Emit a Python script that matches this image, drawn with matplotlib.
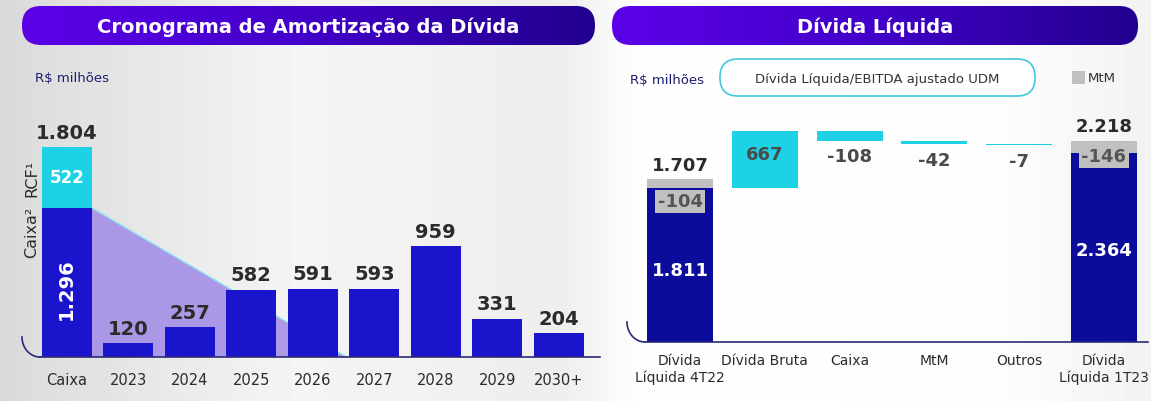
import numpy as np
import matplotlib
matplotlib.use("Agg")
import matplotlib.pyplot as plt
from matplotlib.patches import FancyBboxPatch, Rectangle, Polygon
from matplotlib.colors import LinearSegmentedColormap

W, H = 1151, 402

# --- left chart data: amortization schedule (R$ milhões)
amort_labels = ["Caixa", "2023", "2024", "2025", "2026", "2027", "2028", "2029", "2030+"]
amort_values = [1296, 120, 257, 582, 591, 593, 959, 331, 204]
rcf_value = 522
caixa_label = "1.804"
caixa_inner = "1.296"

# --- right chart data: net debt bridge
bridge_labels = ["Dívida\nLíquida 4T22", "Dívida Bruta", "Caixa", "MtM", "Outros", "Dívida\nLíquida 1T23"]
start_debt = 1811
start_mtm = 104
start_label = "1.707"
start_inner = "1.811"
steps = [667, -108, -42, -7]
end_debt = 2218
end_mtm = 146
end_label = "2.218"
end_inner = "2.364"

BLUE = "#1a14cc"
NAVY = "#0b0b9c"
CYAN = "#1ed2e6"
GRAY = "#c0c0c0"
TXT = "#2b2b2b"

fig = plt.figure(figsize=(W / 100, H / 100), dpi=100)

def px_axes(x0, y0, x1, y1, **kw):
    return fig.add_axes([x0 / W, 1 - y1 / H, (x1 - x0) / W, (y1 - y0) / H], **kw)

# background + banners in pixel coords
bg = px_axes(0, 0, W, H, zorder=0)
bg.set_xlim(0, W)
bg.set_ylim(H, 0)
bg.axis("off")
xs = np.array([0, 40, 300, 560, 605, 640, 1000, 1151])
cs = np.array([0.85, 0.87, 0.96, 0.93, 0.97, 0.995, 0.99, 0.95])
grad = np.interp(np.arange(W), xs, cs)
bg.imshow(np.tile(grad, (H, 1)), cmap="gray", vmin=0, vmax=1, extent=(0, W, H, 0), aspect="auto")

ban_cm = LinearSegmentedColormap.from_list("ban", ["#5c02e8", "#4200c8", "#22008e"])

def banner(x0, x1, title):
    p = FancyBboxPatch((x0, 7), x1 - x0, 39, boxstyle="round,pad=0,rounding_size=19",
                       facecolor="none", edgecolor="none")
    bg.add_patch(p)
    im = bg.imshow(np.linspace(0, 1, 256)[None, :], cmap=ban_cm, extent=(x0, x1, 46, 7), aspect="auto")
    im.set_clip_path(p)
    bg.text((x0 + x1) / 2, 27, title, color="white", fontsize=14, fontweight="bold",
            ha="center", va="center")

banner(22, 595, "Cronograma de Amortização da Dívida")
banner(612, 1138, "Dívida Líquida")

bg.text(35, 79, "R$ milhões", color="#1c1c6e", fontsize=9.5, va="center")
bg.text(630, 80, "R$ milhões", color="#1c1c6e", fontsize=9.5, va="center")
bg.add_patch(FancyBboxPatch((720, 60), 315, 37, boxstyle="round,pad=0,rounding_size=18",
                            facecolor="white", edgecolor="#40c8dc", linewidth=1.2))
bg.text(877, 79, "Dívida Líquida/EBITDA ajustado UDM", color="#333333", fontsize=9.5,
        ha="center", va="center")
bg.add_patch(Rectangle((1072, 72), 13, 13, facecolor=GRAY, edgecolor="none"))
bg.text(1088, 78, "MtM", color="#333333", fontsize=9.5, va="center")

# baseline arcs
t = np.linspace(0, np.pi / 2, 30)
bg.plot(40 - 18 * np.cos(t), 338 + 20 * np.sin(t), color="#2a2a7a", lw=1.2)
bg.plot(645 - 18 * np.cos(t), 323 + 20 * np.sin(t), color="#2a2a7a", lw=1.2)

# ---------------- left chart
ax = px_axes(20, 110, 600, 358, zorder=2)
ax.patch.set_alpha(0)
ax.set_xlim(-0.76, 8.67)
ax.set_ylim(0, 2151)
for s in ax.spines.values():
    s.set_visible(False)
ax.set_yticks([])
x = np.arange(len(amort_labels))
bw = 0.81

tri = Polygon([(0.4, amort_values[0]), (4.55, 0), (0.4, 0)], closed=True,
              facecolor="#a08ae6", edgecolor="none", alpha=0.85, zorder=1)
ax.add_patch(tri)
ax.plot([0.4, 4.55], [amort_values[0], 0], color="#8ee6f2", lw=1, zorder=1)

ax.bar(x, amort_values, width=bw, color=BLUE, zorder=2)
ax.bar(0, rcf_value, bottom=amort_values[0], width=bw, color=CYAN, zorder=2)
ax.plot([-0.44, 8.67], [0, 0], color="#2a2a7a", lw=1.2, clip_on=False, zorder=3)

for i, v in enumerate(amort_values[1:], start=1):
    ax.annotate(str(v), (i, v), xytext=(0, 4), textcoords="offset points",
                ha="center", va="bottom", fontsize=14, fontweight="bold", color=TXT)
ax.annotate(caixa_label, (0, amort_values[0] + rcf_value), xytext=(0, 4), textcoords="offset points",
            ha="center", va="bottom", fontsize=14, fontweight="bold", color=TXT)
ax.text(0, amort_values[0] + rcf_value / 2, str(rcf_value), ha="center", va="center",
        fontsize=12, fontweight="bold", color="white")
ax.text(0, amort_values[0] * 0.46, caixa_inner, ha="center", va="center", rotation=90,
        fontsize=14, fontweight="bold", color="white")
ax.text(-0.57, amort_values[0] + rcf_value * 0.5, "RCF¹", rotation=90, ha="center",
        va="center", fontsize=11.5, color=TXT)
ax.text(-0.57, amort_values[0] * 0.84, "Caixa²", rotation=90, ha="center",
        va="center", fontsize=11.5, color=TXT)

ax.set_xticks(x)
ax.set_xticklabels(amort_labels, fontsize=10.5, color=TXT)
ax.tick_params(axis="x", length=0, pad=11)

# ---------------- right chart
ax2 = px_axes(625, 110, 1148, 343, zorder=2)
ax2.patch.set_alpha(0)
ax2.set_xlim(-0.65, 5.52)
ax2.set_ylim(0, 2741)
for s in ax2.spines.values():
    s.set_visible(False)
ax2.set_yticks([])
xb = np.arange(len(bridge_labels))
bw2 = 0.78

ax2.plot([-0.41, 5.52], [0, 0], color="#2a2a7a", lw=1.2, clip_on=False, zorder=3)

# totals with MtM strip on top
ax2.bar(0, start_debt, width=bw2, color=NAVY, zorder=2)
ax2.bar(0, start_mtm, bottom=start_debt, width=bw2, color=GRAY, zorder=2)
ax2.bar(5, end_debt, width=bw2, color=NAVY, zorder=2)
ax2.bar(5, end_mtm, bottom=end_debt, width=bw2, color=GRAY, zorder=2)

lab_kw = dict(fontsize=13, fontweight="bold")
box_kw = dict(boxstyle="square,pad=0.15", facecolor=GRAY, edgecolor="none")
ax2.annotate(start_label, (0, start_debt + start_mtm), xytext=(0, 4), textcoords="offset points",
             ha="center", va="bottom", color=TXT, **lab_kw)
ax2.annotate(end_label, (5, end_debt + end_mtm), xytext=(0, 4), textcoords="offset points",
             ha="center", va="bottom", color=TXT, **lab_kw)
ax2.annotate(f"-{start_mtm}", (0, start_debt + start_mtm), xytext=(0, -16),
             textcoords="offset points", ha="center", va="center", color="#555555",
             bbox=box_kw, **lab_kw)
ax2.annotate(f"-{end_mtm}", (5, end_debt + end_mtm), xytext=(0, -11),
             textcoords="offset points", ha="center", va="center", color="#555555",
             bbox=box_kw, **lab_kw)
ax2.text(0, start_debt * 0.47, start_inner, ha="center", va="center", color="white", **lab_kw)
ax2.text(5, end_debt * 0.49, end_inner, ha="center", va="center", color="white", **lab_kw)

# floating steps
level = start_debt
for i, v in enumerate(steps, start=1):
    new = level + v
    h = max(abs(v), 12)
    ax2.bar(i, h, bottom=min(level, new) if abs(v) >= 12 else level - h,
            width=bw2, color=CYAN, zorder=2)
    if v > 0:
        ax2.annotate(str(v), (i, new), xytext=(0, -16), textcoords="offset points",
                     ha="center", va="center", color="#4a4a4a", **lab_kw)
    else:
        ax2.annotate(str(v), (i, min(level, new)), xytext=(0, -5), textcoords="offset points",
                     ha="center", va="top", color="#4a4a4a", **lab_kw)
    level = new

ax2.set_xticks(xb)
ax2.set_xticklabels(bridge_labels, fontsize=10, color=TXT, linespacing=1.2)
ax2.tick_params(axis="x", length=0, pad=8)

fig.savefig("out.png", dpi=100)
